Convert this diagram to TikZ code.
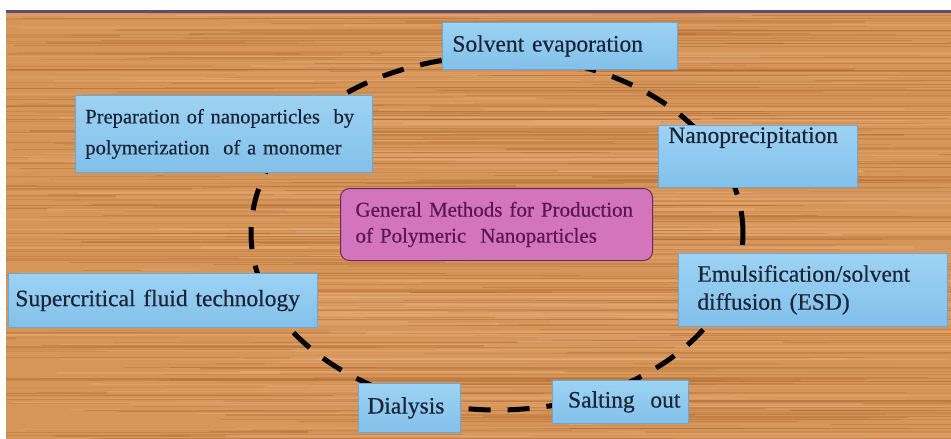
\documentclass[tikz,border=0pt]{standalone}
\usepackage{fontspec}
\setmainfont{Liberation Serif}
\newfontfamily\tnr[FakeBold=0.5]{Liberation Serif}
\definecolor{woodBase}{HTML}{D69559}
\definecolor{woodDark}{HTML}{A9652F}
\definecolor{woodLight}{HTML}{EBB380}
\definecolor{topLine}{HTML}{5E4C72}
\definecolor{blueTop}{HTML}{9DD3F4}
\definecolor{blueBot}{HTML}{82C0EA}
\definecolor{blueEdge}{HTML}{6FA6CF}
\definecolor{navyText}{HTML}{1B2536}
\definecolor{pinkFill}{HTML}{D474BC}
\definecolor{pinkEdge}{HTML}{6A2A5E}
\definecolor{pinkText}{HTML}{5A1752}
\tikzset{
  bluebox/.style={draw=blueEdge, line width=0.8pt, top color=blueTop, bottom color=blueBot,
    anchor=north west, align=left, text=navyText, font=\tnr\fontsize{23.5}{28}\selectfont,
    inner ysep=2pt},
  pinkbox/.style={draw=pinkEdge, line width=1pt, fill=pinkFill, rounded corners=9pt,
    anchor=north west, align=left, text=pinkText, font=\tnr\fontsize{21}{26}\selectfont,
    inner xsep=15pt},
  ring/.style={line width=5pt, dash pattern=on 22pt off 17pt, black}
}
\begin{document}
\begin{tikzpicture}[x=1pt,y=-1pt]
\useasboundingbox (0,0) rectangle (951,439);
\fill[white] (0,0) rectangle (951,439);
% wood background
\fill[woodBase] (6,10) rectangle (951,439);
\begin{scope}
\clip (6,10) rectangle (951,439);
\pgfmathsetseed{11}
\foreach \i in {1,...,420} {
  \pgfmathsetmacro\yy{10+rnd*429}
  \pgfmathsetmacro\op{0.12+0.3*rnd}
  \pgfmathsetmacro\xa{-100+rnd*700}
  \pgfmathsetmacro\len{200+rnd*800}
  \pgfmathsetmacro\lw{0.4+rnd*1.2}
  \draw[woodDark, opacity=\op, line width=\lw pt] (\xa,\yy) -- ++(\len,0);
}
\foreach \i in {1,...,220} {
  \pgfmathsetmacro\yy{10+rnd*429}
  \pgfmathsetmacro\op{0.15+0.3*rnd}
  \pgfmathsetmacro\xa{-100+rnd*700}
  \pgfmathsetmacro\len{200+rnd*700}
  \pgfmathsetmacro\lw{0.6+rnd*2}
  \draw[woodLight, opacity=\op, line width=\lw pt] (\xa,\yy) -- ++(\len,0);
}
\end{scope}
\fill[topLine] (6,10) rectangle (951,12.5);
% dashed ring
\draw[ring] (497,233) ellipse [x radius=246pt, y radius=177pt];
% boxes
\node[bluebox, minimum width=235pt, minimum height=47pt, inner xsep=10pt, text width=215pt] (solv) at (442,22) {Solvent evaporation};
\node[bluebox, minimum width=297pt, minimum height=77pt, inner xsep=10pt, text width=277pt,
  font=\tnr\fontsize{20.5}{31}\selectfont] (prep) at (75,95) {Preparation of nanoparticles~ by\\polymerization~ of a monomer};
\node[bluebox, minimum width=199pt, minimum height=58pt, inner xsep=10pt, text width=179pt] (nano) at (658,125) {Nanoprecipitation\\[14pt]\mbox{}};
\node[pinkbox, minimum width=312pt, minimum height=72pt, text width=282pt] (gen) at (340,188) {General Methods for Production\\of Polymeric~ Nanoparticles};
\node[bluebox, minimum width=309pt, minimum height=54pt, inner xsep=7pt, text width=295pt] (scf) at (8,273) {Supercritical fluid technology};
\node[bluebox, minimum width=269pt, minimum height=73pt, inner xsep=19pt, text width=231pt] (esd) at (678,253) {Emulsification/solvent\\diffusion (ESD)};
\node[bluebox, minimum width=102pt, minimum height=49pt, inner xsep=9pt, text width=84pt] (dia) at (358,383) {Dialysis};
\node[bluebox, minimum width=136pt, minimum height=43pt, inner xsep=8pt, text width=120pt, align=right] (salt) at (552,380) {Salting~ out};
\end{tikzpicture}
\end{document}
